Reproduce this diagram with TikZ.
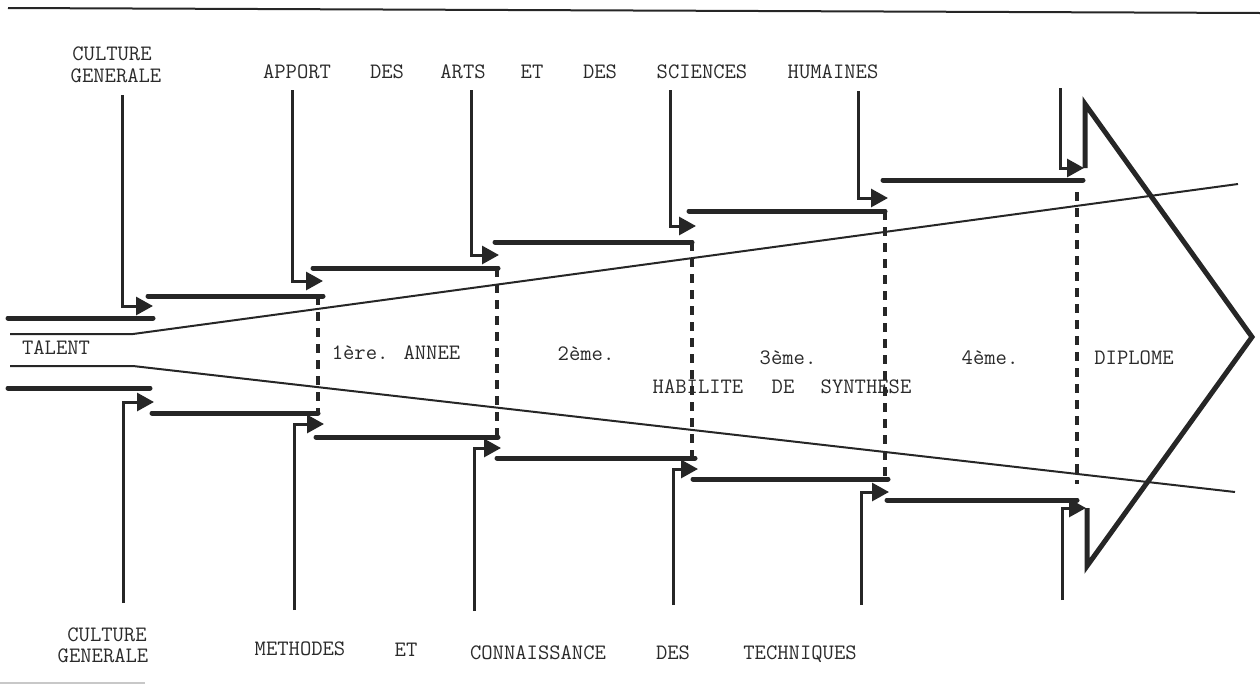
\documentclass[tikz,border=0pt]{standalone}
\usepackage{fontspec}
\usetikzlibrary{arrows.meta}
\definecolor{ink}{HTML}{262626}
\definecolor{txt}{HTML}{2A2A2A}
\definecolor{faint}{HTML}{C8C8C8}
\tikzset{
  lbl/.style={inner sep=0pt, anchor=center, text=txt, text height=13.5pt, text depth=0pt, font=\ttfamily\fontsize{22}{24}\selectfont},
  border/.style={line width=2pt, draw=ink},
  inputline/.style={line width=3pt, draw=ink, -{Triangle[length=17pt,width=18pt]}},
  stepline/.style={line width=5pt, draw=ink, line cap=round},
  funnel/.style={line width=2pt, draw=ink},
  divider/.style={line width=3.2pt, draw=ink, dash pattern=on 9pt off 7pt},
  bigarrow/.style={line width=5pt, draw=ink, line join=miter},
}
\begin{document}
\begin{tikzpicture}[x=1pt,y=-1pt]
\useasboundingbox (0,0) rectangle (1260,686);
% page artefacts
\coordinate (b1) at (8,8); \coordinate (b2) at (1260,13);
\draw[border] (b1) -- (b2);
\coordinate (f1) at (0,683); \coordinate (f2) at (145,683);
\draw[line width=2pt, draw=faint] (f1) -- (f2);

% funnel (TALENT)
\coordinate (ta1) at (10,334); \coordinate (ta2) at (133,334); \coordinate (ta3) at (1238,184);
\coordinate (tb1) at (10,366); \coordinate (tb2) at (133,366); \coordinate (tb3) at (1235,492);
\draw[funnel] (ta1) -- (ta2) -- (ta3);
\draw[funnel] (tb1) -- (tb2) -- (tb3);

% dashed year boundaries
\foreach \i/\x/\ya/\yb in {1/318/296/413, 2/497/268/437, 3/692/242/458, 4/885/211/479, 5/1077/192/484}{
  \coordinate (d\i a) at (\x,\ya); \coordinate (d\i b) at (\x,\yb);
  \draw[divider] (d\i a) -- (d\i b);
}

% upper steps
\foreach \i/\y/\xa/\xb in {0/318/8/153, 1/296/148/323, 2/268/313/498, 3/242/495/692, 4/211/689/885, 5/180/883/1083}{
  \coordinate (us\i a) at (\xa,\y); \coordinate (us\i b) at (\xb,\y);
  \draw[stepline] (us\i a) -- (us\i b);
}
% lower steps
\foreach \i/\y/\xa/\xb in {0/388/8/150, 1/413/152/318, 2/437/316/498, 3/458/497/695, 4/479/693/888, 5/500/887/1077}{
  \coordinate (ls\i a) at (\xa,\y); \coordinate (ls\i b) at (\xb,\y);
  \draw[stepline] (ls\i a) -- (ls\i b);
}

% upper inputs
\foreach \i/\x/\yt/\yturn/\xt in {1/122/95/306/153, 2/292/90/281/323, 3/471/90/255/499, 4/670/90/226/696, 5/858/91/198/888, 6/1060/88/168/1084}{
  \coordinate (ui\i a) at (\x,\yt); \coordinate (ui\i b) at (\xt,\yturn);
  \draw[inputline] (ui\i a) |- (ui\i b);
}
% lower inputs
\foreach \i/\x/\yt/\yturn/\xt in {1/123/603/402/154, 2/294/610/424/324, 3/474/611/448/501, 4/673/605/469/698, 5/861/605/492/889, 6/1062/600/508/1086}{
  \coordinate (li\i a) at (\x,\yt); \coordinate (li\i b) at (\xt,\yturn);
  \draw[inputline] (li\i a) |- (li\i b);
}

% big arrow
\coordinate (ba1) at (1085,168); \coordinate (ba2) at (1085,104);
\coordinate (ba3) at (1252,337); \coordinate (ba4) at (1087,566); \coordinate (ba5) at (1087,508);
\draw[bigarrow] (ba1) -- (ba2) -- (ba3) -- (ba4) -- (ba5);

% top labels
\node[lbl] (tc1) at (112,54) {CULTURE};
\node[lbl] (tc2) at (116,76) {GENERALE};
\node[lbl] (t1) at (297,72) {APPORT};
\node[lbl] (t2) at (387,72) {DES};
\node[lbl] (t3) at (463,72) {ARTS};
\node[lbl] (t4) at (532,72) {ET};
\node[lbl] (t5) at (600,72) {DES};
\node[lbl] (t6) at (702,72) {SCIENCES};
\node[lbl] (t7) at (833,72) {HUMAINES};

% bottom labels
\node[lbl] (bc1) at (107,635) {CULTURE};
\node[lbl] (bc2) at (103,656) {GENERALE};
\node[lbl] (m1) at (300,649) {METHODES};
\node[lbl] (m2) at (406,650) {ET};
\node[lbl] (m3) at (538,653) {CONNAISSANCE};
\node[lbl] (m4) at (673,653) {DES};
\node[lbl] (m5) at (800,653) {TECHNIQUES};

% middle labels
\node[lbl] (talent) at (56,348) {TALENT};
\node[lbl] (y1) at (396,353) {1ère. ANNEE};
\node[lbl] (y2) at (586,354) {2ème.};
\node[lbl] (y3) at (788,358) {3ème.};
\node[lbl] (y4) at (990,358) {4ème.};
\node[lbl] (dip) at (1134,358) {DIPLOME};
\node[lbl] (h1) at (698,387) {HABILITE};
\node[lbl] (h2) at (783,387) {DE};
\node[lbl] (h3) at (866,387) {SYNTHESE};
\end{tikzpicture}
\end{document}
